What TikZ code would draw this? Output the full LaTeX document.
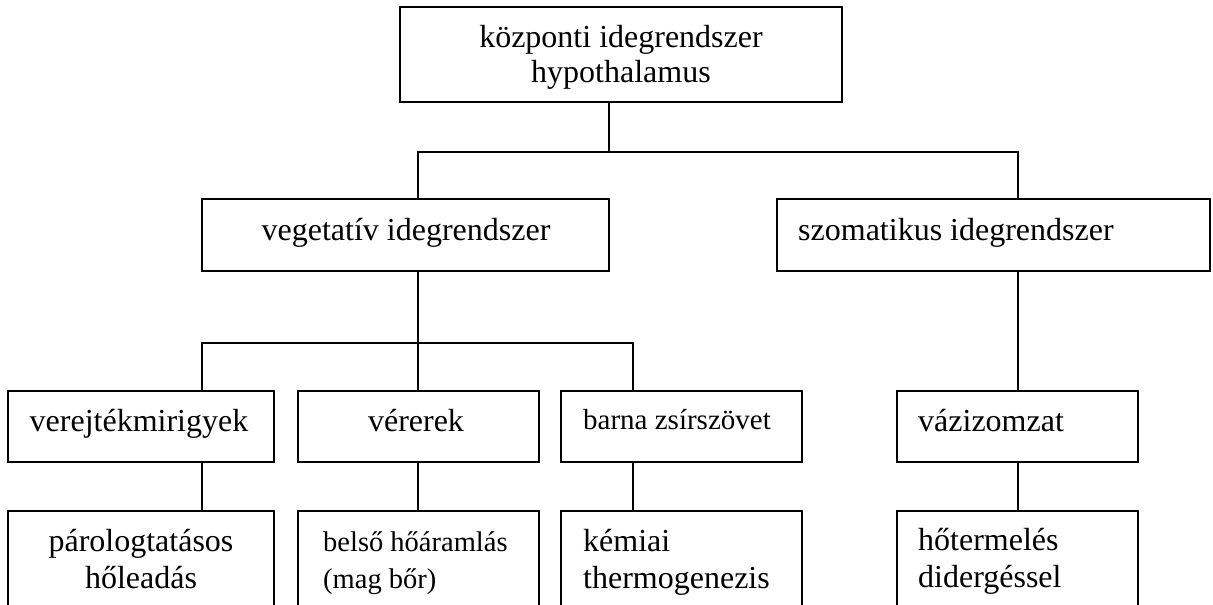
\documentclass[tikz,border=0pt]{standalone}
\usepackage{fontspec}
\setmainfont{Liberation Serif}
\begin{document}
\begin{tikzpicture}[x=1pt,y=-1pt,
  box/.style={draw=black,line width=2pt,rectangle,inner sep=0pt,outer sep=0pt},
  txt/.style={inner sep=0pt,font=\fontsize{32}{36}\selectfont},
  stxt/.style={inner sep=0pt,font=\fontsize{29}{33}\selectfont},
  sstxt/.style={inner sep=0pt,font=\fontsize{28.5}{33}\selectfont},
  conn/.style={draw=black,line width=2pt}]
\useasboundingbox (0,0) rectangle (1213,605);
\clip (0,0) rectangle (1213,605);
% boxes
\node[box,minimum width=442pt,minimum height=95pt] (top) at (621,54.5) {};
\node[box,minimum width=407pt,minimum height=72pt] (veg) at (405.5,235) {};
\node[box,minimum width=433pt,minimum height=72pt] (som) at (993.5,235) {};
\node[box,minimum width=266pt,minimum height=71pt] (ver) at (141,426.5) {};
\node[box,minimum width=241pt,minimum height=71pt] (vere) at (418.5,426.5) {};
\node[box,minimum width=241pt,minimum height=71pt] (bar) at (681.5,426.5) {};
\node[box,minimum width=241pt,minimum height=71pt] (vaz) at (1017.5,426.5) {};
\node[box,minimum width=266pt,minimum height=119pt] (par) at (141,570.5) {};
\node[box,minimum width=241pt,minimum height=119pt] (bel) at (418.5,570.5) {};
\node[box,minimum width=241pt,minimum height=119pt] (kem) at (681.5,570.5) {};
\node[box,minimum width=241pt,minimum height=119pt] (hot) at (1017.5,570.5) {};
% texts
\node[txt,anchor=base] (t1) at (621,47) {központi idegrendszer};
\node[txt,anchor=base] (t2) at (621,82) {hypothalamus};
\node[txt,anchor=base] (t3) at (406,240) {vegetatív idegrendszer};
\node[txt,anchor=base west] (t4) at (798,240) {szomatikus idegrendszer};
\node[txt,anchor=base] (t5) at (139,431) {verejtékmirigyek};
\node[txt,anchor=base] (t6) at (416,431) {vérerek};
\node[stxt,anchor=base west] (t7) at (583,429) {barna zsírszövet};
\node[txt,anchor=base west] (t8) at (918,431) {vázizomzat};
\node[txt,anchor=base] (t9) at (141,551) {párologtatásos};
\node[txt,anchor=base] (t10) at (141,588) {hőleadás};
\node[sstxt,anchor=base west] (t11) at (323,551) {belső hőáramlás};
\node[sstxt,anchor=base west] (t12) at (323,588) {(mag bőr)};
\node[txt,anchor=base west] (t13) at (583,551) {kémiai};
\node[txt,anchor=base west] (t14) at (583,588) {thermogenezis};
\node[txt,anchor=base west] (t15) at (918,550) {hőtermelés};
\node[txt,anchor=base west] (t16) at (918,587) {didergéssel};
% junctions
\coordinate (b1) at (609,152);
\coordinate (v1) at (418,152);
\coordinate (s1) at (1018,152);
\coordinate (v2) at (418,343);
\coordinate (h1) at (202,343);
\coordinate (h3) at (633,343);
% connectors
\draw[conn] (top.south -| b1) -- (b1);
\draw[conn] (veg.north -| v1) -- (v1) -- (s1) -- (som.north -| s1);
\draw[conn] (veg.south -| v2) -- (vere.north -| v2);
\draw[conn] (ver.north -| h1) -- (h1) -- (h3) -- (bar.north -| h3);
\draw[conn] (som.south -| s1) -- (vaz.north -| s1);
\draw[conn] (ver.south -| h1) -- (par.north -| h1);
\draw[conn] (vere.south -| v2) -- (bel.north -| v2);
\draw[conn] (bar.south -| h3) -- (kem.north -| h3);
\draw[conn] (vaz.south -| s1) -- (hot.north -| s1);
\end{tikzpicture}
\end{document}
